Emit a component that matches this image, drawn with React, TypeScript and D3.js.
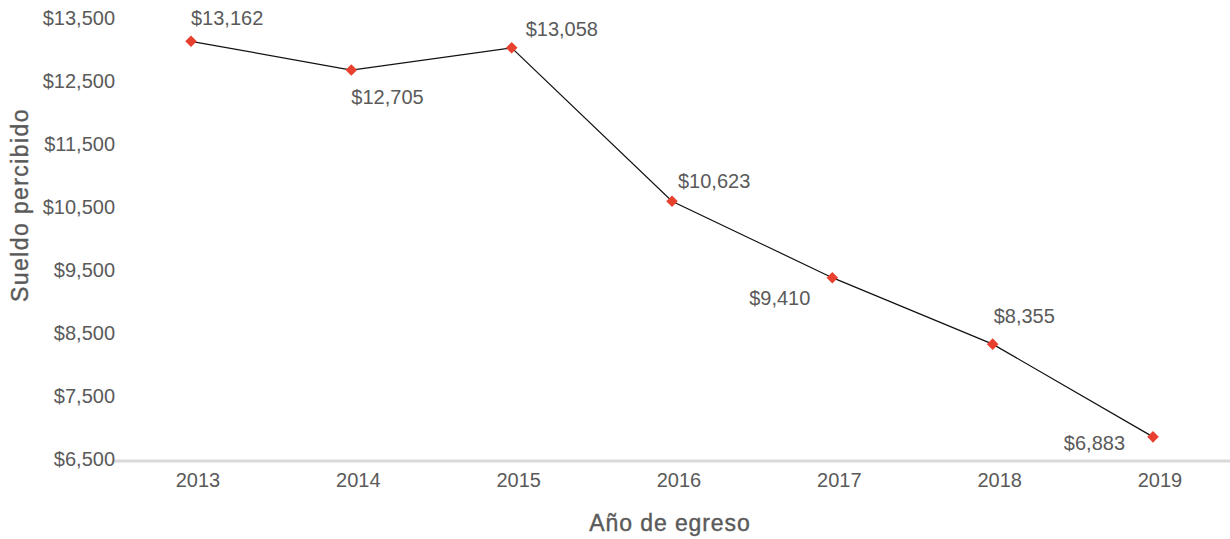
import React, { useEffect, useRef } from 'react';
import * as d3 from 'd3';

const years = ['2013', '2014', '2015', '2016', '2017', '2018', '2019'];
const salaries = [13162, 12705, 13058, 10623, 9410, 8355, 6883];
const yTicks = [6500, 7500, 8500, 9500, 10500, 11500, 12500, 13500];

// label placement around each point: [dx, dy, anchor]
const labelPos: [number, number, string][] = [
  [0, -23, 'start'],
  [0, 27, 'start'],
  [14, -19, 'start'],
  [6, -20, 'start'],
  [-22, 20, 'end'],
  [1, -28, 'start'],
  [-28, 6, 'end'],
];

const fmt = (v: number) => '$' + d3.format(',')(v);

function SalaryChart() {
  const svgRef = useRef<SVGSVGElement>(null);

  useEffect(() => {
    const svg = d3.select(svgRef.current);
    svg.selectAll('*').remove();

    const textColor = '#5a5a5a';
    const font = "'Liberation Sans', Arial, sans-serif";

    const x = d3.scalePoint().domain(years).range([191, 1153]);
    const y = d3.scaleLinear().domain([6500, 13500]).range([461, 20]);

    // baseline axis
    svg.append('line')
      .attr('x1', 114)
      .attr('x2', 1230)
      .attr('y1', y(6500))
      .attr('y2', y(6500))
      .attr('stroke', '#d9d9d9')
      .attr('stroke-width', 3);

    // y tick labels
    svg.append('g')
      .selectAll('text')
      .data(yTicks)
      .join('text')
      .attr('x', 115)
      .attr('y', d => y(d) - 2)
      .attr('dy', '0.35em')
      .attr('text-anchor', 'end')
      .style('font-family', font)
      .style('font-size', '20px')
      .style('fill', textColor)
      .text(d => fmt(d));

    // x tick labels
    svg.append('g')
      .selectAll('text')
      .data(years)
      .join('text')
      .attr('x', d => x(d)! + 7)
      .attr('y', 480)
      .attr('dy', '0.35em')
      .attr('text-anchor', 'middle')
      .style('font-family', font)
      .style('font-size', '20px')
      .style('fill', textColor)
      .text(d => d);

    const pts = years.map((yr, i) => ({ yr, v: salaries[i], i }));

    const line = d3.line<{ yr: string; v: number }>()
      .x(d => x(d.yr)!)
      .y(d => y(d.v));

    svg.append('path')
      .datum(pts)
      .attr('fill', 'none')
      .attr('stroke', '#111')
      .attr('stroke-width', 1.2)
      .attr('d', line);

    const diamond = d3.symbol().type(d3.symbolDiamond2).size(85);
    svg.append('g')
      .selectAll('path')
      .data(pts)
      .join('path')
      .attr('transform', d => `translate(${x(d.yr)},${y(d.v)})`)
      .attr('d', diamond)
      .attr('fill', '#e8402e');

    svg.append('g')
      .selectAll('text')
      .data(pts)
      .join('text')
      .attr('x', d => x(d.yr)! + labelPos[d.i][0])
      .attr('y', d => y(d.v) + labelPos[d.i][1])
      .attr('dy', '0.35em')
      .attr('text-anchor', d => labelPos[d.i][2])
      .style('font-family', font)
      .style('font-size', '20px')
      .style('fill', textColor)
      .text(d => fmt(d.v));

    // axis titles
    svg.append('text')
      .attr('x', 670)
      .attr('y', 523)
      .attr('dy', '0.35em')
      .attr('text-anchor', 'middle')
      .style('font-family', font)
      .style('font-size', '23px')
      .style('letter-spacing', '0.9px')
      .style('fill', textColor)
      .style('stroke', textColor)
      .style('stroke-width', '0.4px')
      .text('Año de egreso');

    svg.append('text')
      .attr('transform', 'translate(20,205) rotate(-90)')
      .attr('dy', '0.35em')
      .attr('text-anchor', 'middle')
      .style('font-family', font)
      .style('font-size', '23px')
      .style('letter-spacing', '1.4px')
      .style('fill', textColor)
      .style('stroke', textColor)
      .style('stroke-width', '0.4px')
      .text('Sueldo percibido');
  }, []);

  return (
    <svg
      ref={svgRef}
      width={1230}
      height={539}
      style={{ position: 'absolute', left: 0, top: 0, background: '#fff' }}
    ></svg>
  );
}

export default function App() {
  return <SalaryChart />;
}
